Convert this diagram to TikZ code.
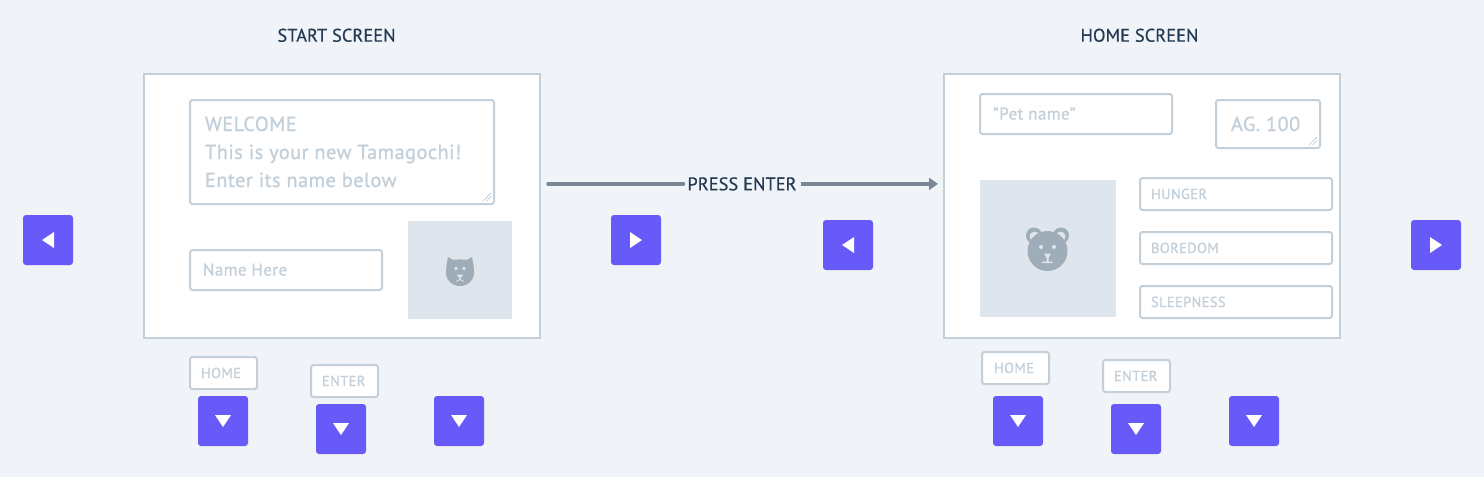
\documentclass[tikz,border=0pt]{standalone}
\usepackage{fontspec}
\setmainfont[LetterSpace=2.4,FakeBold=1.0,Ligatures=NoCommon]{PT Sans}
\newfontfamily\titlefont[LetterSpace=0.5,FakeBold=0.5]{PT Sans}
\usetikzlibrary{calc,arrows.meta}
\definecolor{bgc}{HTML}{F0F4F8}
\definecolor{linec}{HTML}{C3CFD9}
\definecolor{panelc}{HTML}{DFE5EC}
\definecolor{iconc}{HTML}{9FADB9}
\definecolor{btnc}{HTML}{6859F9}
\definecolor{darkc}{HTML}{243B53}
\definecolor{arrowc}{HTML}{7B8794}
\tikzset{
 x=1pt,y=-1pt,
 every node/.style={inner sep=0pt,outer sep=0pt},
 screenbox/.style={draw=linec,line width=2pt,fill=white,rounded corners=0pt,minimum width=#1},
 fieldbox/.style={draw=linec,line width=2pt,fill=white,rounded corners=2.5pt},
 panelbox/.style={fill=panelc},
 btnbox/.style={fill=btnc,rounded corners=3pt,minimum width=50pt,minimum height=50pt},
 hint/.style={text=linec,anchor=base west,font=\fontsize{#1}{#1}\selectfont},
 heading/.style={text=darkc,anchor=base,font=\titlefont\fontsize{18.3}{18.3}\selectfont},
 tri/.style={fill=white},
 conn/.style={draw=arrowc,line width=3.5pt,line cap=round},
 grip/.style={draw=linec!80!gray,line width=0.5pt},
}
\newcommand{\boxat}[6][fieldbox]{% style, name, x0,y0,x1,y1
  \node[#1,anchor=north west,minimum width={#5-#3},minimum height={#6-#4}] (#2) at (#3,#4) {};}
\newcommand{\btn}[3]{\node[btnbox] (#1) at (#2,#3) {};}
\newcommand{\tridown}[1]{\fill[tri] ($(#1.center)+(-8,-6)$) -- ($(#1.center)+(8,-6)$) -- ($(#1.center)+(0,6)$) -- cycle;}
\newcommand{\trileft}[1]{\fill[tri] ($(#1.center)+(6,-8)$) -- ($(#1.center)+(6,8)$) -- ($(#1.center)+(-6,0)$) -- cycle;}
\newcommand{\triright}[1]{\fill[tri] ($(#1.center)+(-6,-8)$) -- ($(#1.center)+(-6,8)$) -- ($(#1.center)+(6,0)$) -- cycle;}
\newcommand{\gripat}[1]{\draw[grip] ($(#1.south east)+(-11,-3)$) -- ($(#1.south east)+(-3,-11)$)
  ($(#1.south east)+(-7.5,-3)$) -- ($(#1.south east)+(-3,-7.5)$);}
\begin{document}
\begin{tikzpicture}
\useasboundingbox (0,0) rectangle (1484,477);
\fill[bgc] (0,0) rectangle (1484,477);

% headings
\node[heading] (t1) at (336.5,41.7) {START SCREEN};
\node[heading] (t2) at (1139.5,41.7) {HOME SCREEN};

% start screen
\boxat[screenbox=0pt]{start}{144}{74}{540}{338}
\boxat{welcome}{190}{100}{494}{204}
\node[hint=20.3] (w1) at (205,131) {WELCOME};
\node[hint=20.3] (w2) at (205,159) {This is your new Tamagochi!};
\node[hint=20.3] (w3) at (205,187) {Enter its name below};
\gripat{welcome}
\boxat{namebox}{190}{250}{382}{290}
\node[hint=17] (nameT) at (203,275.5) {Name Here};
\boxat[panelbox]{catpanel}{408}{221}{512}{319}

% cat icon
\fill[iconc] (446,272.5) .. controls (446,267) and (447,261.5) .. (448,257)
  -- (453.5,260) .. controls (457,259.2) and (463,259.2) .. (466.5,260)
  -- (472,257) .. controls (473,261.5) and (474,267) .. (474,272.5)
  .. controls (474,281) and (467.5,286) .. (460,286)
  .. controls (452.5,286) and (446,281) .. (446,272.5) -- cycle;
\fill[panelc] (456,268.5) circle (1.8) (464,268.5) circle (1.8);
\fill[panelc] (456.5,274.5) -- (463.5,274.5) -- (460,279) -- cycle;
\draw[panelc,line width=0.8pt] (456,281.2) .. controls (458,281.2) and (459,280.5) .. (460,279) .. controls (461,280.5) and (462,281.2) .. (464,281.2);

% home screen
\boxat[screenbox=0pt]{home}{944}{74}{1340}{338}
\boxat{petbox}{980}{94}{1172}{134}
\node[hint=17] (petT) at (993,119.5) {\char34 Pet name\char34};
\boxat{agebox}{1216}{100}{1320}{148}
\node[hint=20.3] (ageT) at (1231,131) {AG. 100};
\gripat{agebox}
\boxat[panelbox]{bearpanel}{980}{180}{1116}{317}
\boxat{hunger}{1140}{178}{1332}{210}
\node[hint=14.5] (hT) at (1151,199) {HUNGER};
\boxat{boredom}{1140}{232}{1332}{264}
\node[hint=14.5] (bT) at (1151,253) {BOREDOM};
\boxat{sleep}{1140}{286}{1332}{318}
\node[hint=14.5] (sT) at (1151,307) {SLEEPNESS};

% bear icon
\fill[iconc] (1034,235.5) circle (8) (1061,235.5) circle (8);
\fill[panelc] (1034.5,236.5) circle (5) (1060.5,236.5) circle (5);
\fill[iconc] (1047.5,251) circle (20);
\fill[panelc] (1041,247) circle (2) (1054,247) circle (2);
\fill[panelc] (1044,253.5) -- (1051,253.5) -- (1048.5,258) -- (1048.5,261.5) -- (1052.5,261.5) -- (1052.5,263) -- (1042,263) -- (1042,261.5) -- (1046.5,261.5) -- (1046.5,258) -- cycle;

% connector
\node[text=darkc,anchor=base,font=\titlefont\fontsize{18.3}{18.3}\selectfont,inner xsep=4pt] (press) at (742,190.3) {PRESS ENTER};
\draw[conn,shorten <=8pt] (start.east |- press.west) -- (press.west);
\draw[conn,line cap=butt,shorten >=6pt,-{Triangle[length=9pt,width=12pt]}] (press.east) -- (home.west |- press.east);

% small labels
\boxat{b1}{190}{357}{257}{389}
\node[hint=14.5] (b1T) at (201,378) {HOME};
\boxat{b2}{311}{365}{378}{397}
\node[hint=14.5] (b2T) at (322,386) {ENTER};
\boxat{b3}{982}{352}{1049}{384}
\node[hint=14.5] (b3T) at (994,373) {HOME};
\boxat{b4}{1103}{360}{1170}{392}
\node[hint=14.5] (b4T) at (1114,381) {ENTER};

% buttons
\btn{la}{48}{240}\trileft{la}
\btn{ra}{636}{240}\triright{ra}
\btn{lb}{848}{245}\trileft{lb}
\btn{rb}{1436}{245}\triright{rb}
\btn{d1}{223}{421}\tridown{d1}
\btn{d2}{341}{429}\tridown{d2}
\btn{d3}{459}{421}\tridown{d3}
\btn{d4}{1018}{421}\tridown{d4}
\btn{d5}{1136}{429}\tridown{d5}
\btn{d6}{1254}{421}\tridown{d6}
\end{tikzpicture}
\end{document}
